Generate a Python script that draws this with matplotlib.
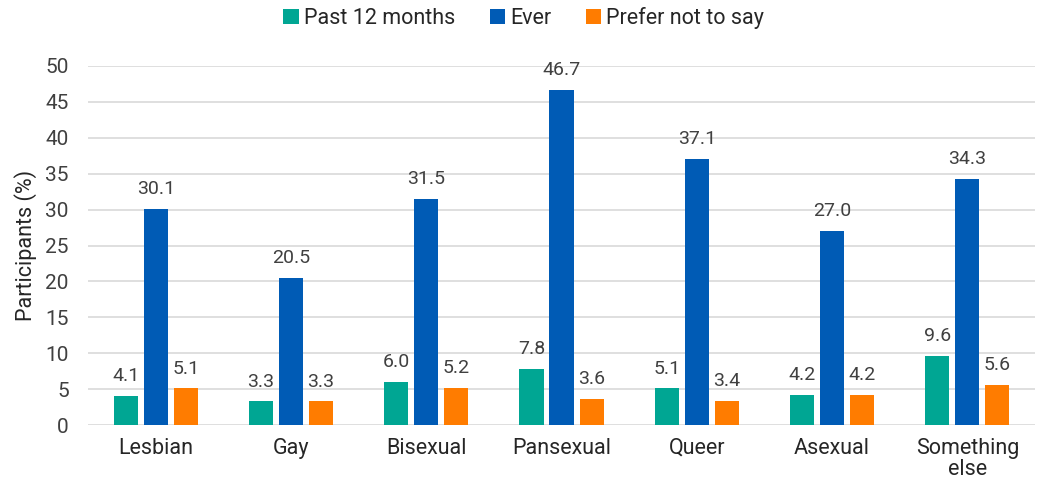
import numpy as np
import matplotlib
matplotlib.use("Agg")
import matplotlib.pyplot as plt

plt.rcParams["font.family"] = ["Roboto", "DejaVu Sans"]

categories = ["Lesbian", "Gay", "Bisexual", "Pansexual", "Queer", "Asexual", "Something\nelse"]
series_names = ["Past 12 months", "Ever", "Prefer not to say"]
past_12 = [4.1, 3.3, 6.0, 7.8, 5.1, 4.2, 9.6]
ever = [30.1, 20.5, 31.5, 46.7, 37.1, 27.0, 34.3]
prefer_not = [5.1, 3.3, 5.2, 3.6, 3.4, 4.2, 5.6]

colors = ["#00A693", "#005BB5", "#FF7C00"]
txt = "#404040"

fig = plt.figure(figsize=(10.37, 4.91), dpi=100)
ax = fig.add_axes([0.085, 0.1344, 0.913, 0.7312])

x = np.arange(len(categories))
width = 0.178
offset = 0.222
for i, (vals, name) in enumerate(zip([past_12, ever, prefer_not], series_names)):
    bars = ax.bar(x + (i - 1) * offset, vals, width=width, color=colors[i], label=name, zorder=3)
    for b, v in zip(bars, vals):
        ax.text(b.get_x() + b.get_width() / 2, v + 1.5, f"{v:.1f}", ha="center", va="bottom",
                fontsize=14, color=txt)

ax.set_xlim(-0.5, len(categories) - 0.5)
ax.set_ylim(0, 50)
ax.set_yticks(range(0, 51, 5))
ax.set_xticks(x)
ax.set_xticklabels(categories, fontsize=15.5, color="#262626", linespacing=1.0)
ax.tick_params(axis="y", labelsize=15, labelcolor=txt, length=0, pad=14)
ax.tick_params(axis="x", length=0, pad=9)
ax.grid(axis="y", color="#D9D9D9", linewidth=1.2, zorder=0)
for s in ax.spines.values():
    s.set_visible(False)
ax.set_ylabel("Participants (%)", fontsize=15.5, color="#262626", labelpad=6)

fig.legend(loc="upper center", bbox_to_anchor=(0.505, 1.025), ncol=3, frameon=False,
           fontsize=15.5, handlelength=0.7, handleheight=0.7, handletextpad=0.25,
           columnspacing=1.6, labelcolor="#262626")

fig.savefig("out.png", dpi=100)
